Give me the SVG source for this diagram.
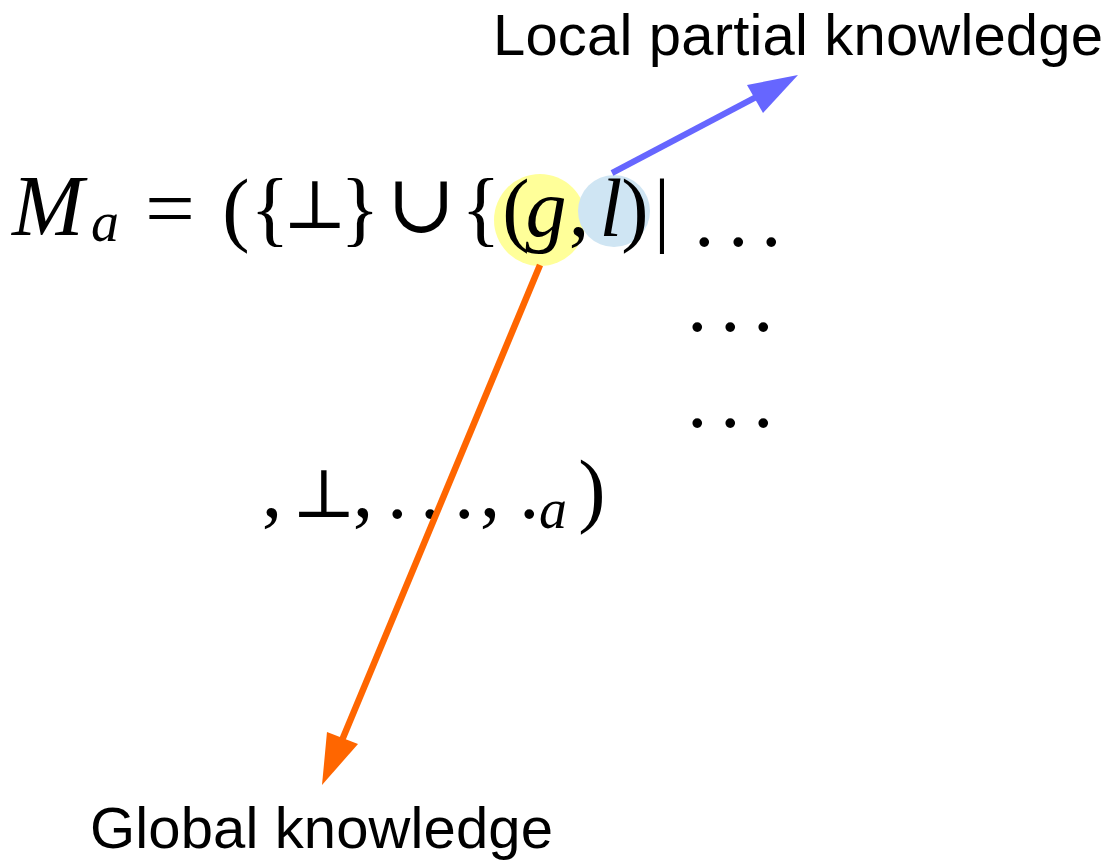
<svg xmlns="http://www.w3.org/2000/svg" width="1111" height="861" viewBox="0 0 1111 861">
<style>
.m{font-family:"Liberation Serif","DejaVu Serif",serif;font-size:82px;fill:#000;text-anchor:middle}
.i{font-style:italic}
.s{font-size:56px}
.p{font-size:68px}
.lbl{font-family:"Liberation Sans",Arial,sans-serif;font-size:58px;fill:#000}
</style>
<rect width="1111" height="861" fill="#fff"/>
<g id="highlights">
<circle cx="540" cy="220" r="46" fill="#ffff99"/>
<circle cx="614" cy="211" r="36" fill="#cfe5f3"/>
</g>
<g id="formula">
<text class="m i" x="12" y="235" style="text-anchor:start;font-size:86px">M</text>
<text class="m i s" x="105" y="241">a</text>
<text class="m" x="145" y="236" style="text-anchor:start" textLength="50" lengthAdjust="spacingAndGlyphs">=</text>
<text class="m" x="236" y="236">(</text>
<text class="m" x="270" y="236">{</text>
<text class="m p" x="315" y="228">⊥</text>
<text class="m" x="360" y="236">}</text>
<text class="m" x="421" y="232">∪</text>
<text class="m" x="481" y="236">{</text>
<text class="m" x="516" y="236">(</text>
<text class="m i" x="546" y="236">g</text>
<text class="m" x="579" y="236">,</text>
<text class="m i" x="611" y="236">l</text>
<text class="m" x="635" y="236">)</text>
<text class="m" x="662" y="236">|</text>
<text class="m" x="694 728 761" y="246" style="text-anchor:start">...</text>
<text class="m" x="687 720 753" y="331" style="text-anchor:start">...</text>
<text class="m" x="687 720 753" y="427" style="text-anchor:start">...</text>
<text class="m" x="272" y="517">,</text>
<text class="m p" x="324" y="517">⊥</text>
<text class="m" x="363" y="517">,</text>
<text class="m" x="387 420 454" y="518" style="text-anchor:start">...</text>
<text class="m" x="490" y="517">,</text>
<text class="m" x="519" y="518" style="text-anchor:start">.</text>
<text class="m i s" x="553" y="528">a</text>
<text class="m" x="592" y="517">)</text>
</g>
<g id="connectors">
<line x1="612" y1="173" x2="760" y2="95" stroke="#6666ff" stroke-width="6"/>
<polygon points="798,75 747,85 763,113" fill="#6666ff"/>
<line x1="540" y1="265" x2="340" y2="745" stroke="#ff6600" stroke-width="6.5"/>
<polygon points="322,785 327,732 358,744" fill="#ff6600"/>
</g>
<g id="label-local"><text class="lbl" x="493" y="55" textLength="610">Local partial knowledge</text></g>
<g id="label-global"><text class="lbl" x="90" y="848" textLength="463">Global knowledge</text></g>
</svg>
